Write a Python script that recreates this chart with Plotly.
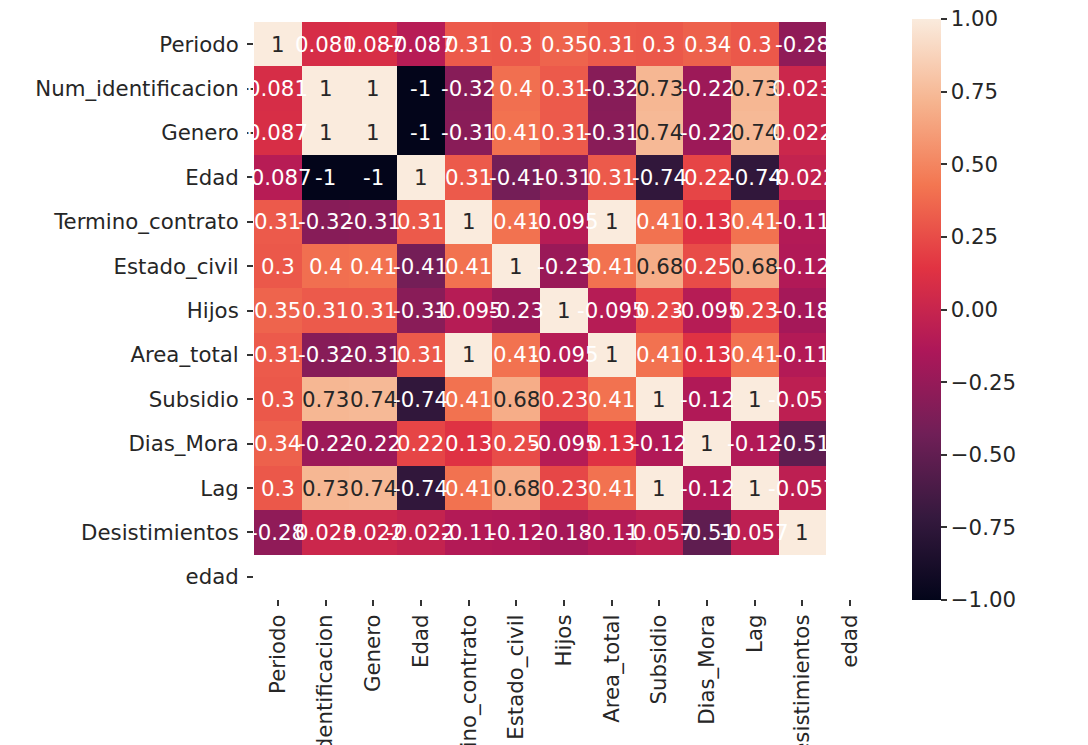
import plotly.graph_objects as go

# Variable names (rows and columns of the correlation matrix)
labels = ["Periodo", "Num_identificacion", "Genero", "Edad", "Termino_contrato",
          "Estado_civil", "Hijos", "Area_total", "Subsidio", "Dias_Mora", "Lag",
          "Desistimientos", "edad"]

N = None  # column 'edad' has no valid correlations

# Correlation coefficients, one list per row
periodo        = [1, 0.081, 0.087, -0.087, 0.31, 0.3, 0.35, 0.31, 0.3, 0.34, 0.3, -0.28, N]
num_ident      = [0.081, 1, 1, -1, -0.32, 0.4, 0.31, -0.32, 0.73, -0.22, 0.73, 0.023, N]
genero         = [0.087, 1, 1, -1, -0.31, 0.41, 0.31, -0.31, 0.74, -0.22, 0.74, 0.022, N]
edad_num       = [-0.087, -1, -1, 1, 0.31, -0.41, -0.31, 0.31, -0.74, 0.22, -0.74, -0.022, N]
termino        = [0.31, -0.32, -0.31, 0.31, 1, 0.41, -0.095, 1, 0.41, 0.13, 0.41, -0.11, N]
estado_civil   = [0.3, 0.4, 0.41, -0.41, 0.41, 1, -0.23, 0.41, 0.68, 0.25, 0.68, -0.12, N]
hijos          = [0.35, 0.31, 0.31, -0.31, -0.095, -0.23, 1, -0.095, 0.23, -0.095, 0.23, -0.18, N]
area_total     = [0.31, -0.32, -0.31, 0.31, 1, 0.41, -0.095, 1, 0.41, 0.13, 0.41, -0.11, N]
subsidio       = [0.3, 0.73, 0.74, -0.74, 0.41, 0.68, 0.23, 0.41, 1, -0.12, 1, -0.057, N]
dias_mora      = [0.34, -0.22, -0.22, 0.22, 0.13, 0.25, -0.095, 0.13, -0.12, 1, -0.12, -0.51, N]
lag            = [0.3, 0.73, 0.74, -0.74, 0.41, 0.68, 0.23, 0.41, 1, -0.12, 1, -0.057, N]
desistimientos = [-0.28, 0.023, 0.022, -0.022, -0.11, -0.12, -0.18, -0.11, -0.057, -0.51, -0.057, 1, N]
edad_txt       = [N] * 13

matrix = [periodo, num_ident, genero, edad_num, termino, estado_civil, hijos,
          area_total, subsidio, dias_mora, lag, desistimientos, edad_txt]

# "rocket" style sequential palette
rocket = [
    [0.0, "#03051a"],
    [1 / 7, "#35193e"],
    [2 / 7, "#701f57"],
    [3 / 7, "#ad1759"],
    [4 / 7, "#e13342"],
    [5 / 7, "#f37651"],
    [6 / 7, "#f6b48f"],
    [1.0, "#faebdd"],
]

FONT = "DejaVu Sans"
FS = 21.3
n = len(labels)

fig = go.Figure(
    go.Heatmap(
        z=matrix,
        x=labels,
        y=labels,
        zmin=-1,
        zmax=1,
        colorscale=rocket,
        hoverongaps=False,
        colorbar=dict(
            x=1.045,
            xanchor="left",
            y=0.5017,
            yanchor="middle",
            len=601,
            lenmode="pixels",
            thickness=29,
            outlinewidth=0,
            ticks="outside",
            ticklen=6,
            tickwidth=1.5,
            tickcolor="#333333",
            tickvals=[-1, -0.75, -0.5, -0.25, 0, 0.25, 0.5, 0.75, 1],
            tickformat=".2f",
            tickfont=dict(family=FONT, size=FS, color="#262626"),
        ),
    )
)

# Cell annotations, formatted with two significant digits
annotations = []
for i, row_name in enumerate(labels):
    for j, col_name in enumerate(labels):
        v = matrix[i][j]
        if v is None:
            continue
        annotations.append(dict(
            x=col_name, y=row_name, xref="x", yref="y",
            text=format(v, ".2g"),
            showarrow=False,
            font=dict(family=FONT, size=FS,
                      color="#262626" if v > 0.55 else "#ffffff"),
        ))

fig.update_layout(
    width=1088,
    height=745,
    margin=dict(l=254, r=214, t=22, b=146, autoexpand=False),
    paper_bgcolor="white",
    plot_bgcolor="white",
    annotations=annotations,
    font=dict(family=FONT, size=FS, color="#262626"),
    xaxis=dict(
        range=[-0.5, n - 0.5],
        tickangle=-90,
        ticks="outside",
        ticklen=6,
        tickwidth=1.5,
        tickcolor="#333333",
        showgrid=False,
        zeroline=False,
        showline=False,
        automargin=False,
        tickfont=dict(family=FONT, size=FS, color="#262626"),
    ),
    yaxis=dict(
        range=[n - 0.5, -0.5],
        ticks="outside",
        ticklen=6,
        tickwidth=1.5,
        tickcolor="#333333",
        ticklabelstandoff=4,
        showgrid=False,
        zeroline=False,
        showline=False,
        automargin=False,
        tickfont=dict(family=FONT, size=FS, color="#262626"),
    ),
)

fig.write_html("out.html")
